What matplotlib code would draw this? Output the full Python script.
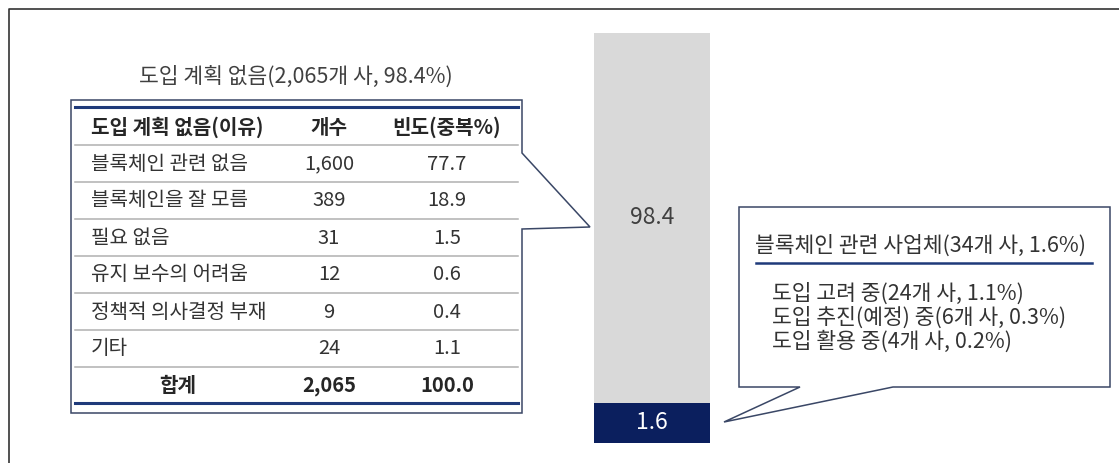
import numpy as np
import matplotlib.pyplot as plt
from matplotlib.patches import Polygon

plt.rcParams['font.family'] = ['Noto Sans CJK KR', 'DejaVu Sans']

# data
bar_labels = ['블록체인 관련 사업체', '도입 계획 없음']
bar_values = [1.6, 98.4]
bar_colors = ['#0B1F5E', '#D9D9D9']

table_title = '도입 계획 없음(2,065개 사, 98.4%)'
table_header = ['도입 계획 없음(이유)', '개수', '빈도(중복%)']
reasons = ['블록체인 관련 없음', '블록체인을 잘 모름', '필요 없음',
           '유지 보수의 어려움', '정책적 의사결정 부재', '기타']
counts = [1600, 389, 31, 12, 9, 24]
freqs = [77.7, 18.9, 1.5, 0.6, 0.4, 1.1]
total_label = '합계'
total_count = 2065
total_freq = 100.0

biz_title = '블록체인 관련 사업체(34개 사, 1.6%)'
biz_items = ['도입 고려 중(24개 사, 1.1%)',
             '도입 추진(예정) 중(6개 사, 0.3%)',
             '도입 활용 중(4개 사, 0.2%)']

W, H = 1119, 463
fs = 14.5
fig = plt.figure(figsize=(W / 100, H / 100), dpi=100)

# stacked bar (small segment exaggerated so it stays readable)
axb = fig.add_axes([594 / W, (H - 443) / H, 116 / W, 410 / H])
f_in = [0, bar_values[0], 100]
f_out = [0, 9.76, 100]
axb.set_yscale('function', functions=(lambda v: np.interp(v, f_in, f_out),
                                      lambda v: np.interp(v, f_out, f_in)))
bottom = 0
for val, col in zip(bar_values, bar_colors):
    axb.bar(0, val, bottom=bottom, width=1, color=col)
    mid = bottom + val / 2
    tc = 'white' if col == bar_colors[0] else '#404040'
    axb.text(0, mid, f'{val:.1f}', ha='center', va='center', color=tc, fontsize=16.5)
    bottom += val
axb.set_xlim(-0.5, 0.5)
axb.set_ylim(0, 100)
axb.axis('off')

# overlay in pixel coords
ax = fig.add_axes([0, 0, 1, 1])
ax.set_xlim(0, W)
ax.set_ylim(H, 0)
ax.axis('off')

# outer frame
ax.plot([9, 9, W], [H, 9, 9], color='#333333', lw=1.2)

edge = '#3A4766'
navy = '#1F3A7A'
txt = '#262626'

# table callout
tbl = Polygon([(71, 100), (522, 100), (522, 153), (590, 227), (522, 229),
               (522, 413), (71, 413)], closed=True, fc='white', ec=edge, lw=1.1)
ax.add_patch(tbl)
ax.text(296, 77, table_title, ha='center', va='center', fontsize=15.5, color='#404040')

col_x = [91, 329, 447]
ax.plot([75, 518], [107, 107], color=navy, lw=2.2)
ax.text(col_x[0], 127, table_header[0], ha='left', va='center', fontsize=fs,
        fontweight='bold', color=txt)
ax.text(col_x[1], 127, table_header[1], ha='center', va='center', fontsize=fs,
        fontweight='bold', color=txt)
ax.text(col_x[2], 127, table_header[2], ha='center', va='center', fontsize=fs,
        fontweight='bold', color=txt)

for i, (r, c, f) in enumerate(zip(reasons, counts, freqs)):
    y = 164 + i * 37
    ax.plot([75, 518], [y - 19, y - 19], color='#B0B0B0', lw=1.1)
    ax.text(col_x[0], y, r, ha='left', va='center', fontsize=fs, color='#333333')
    ax.text(col_x[1], y, f'{c:,}', ha='center', va='center', fontsize=fs, color='#333333')
    ax.text(col_x[2], y, f'{f:.1f}', ha='center', va='center', fontsize=fs, color='#333333')

ty = 164 + len(reasons) * 37
ax.plot([75, 518], [ty - 19, ty - 19], color='#B0B0B0', lw=1.1)
ax.text(178, ty, total_label, ha='center', va='center', fontsize=fs,
        fontweight='bold', color=txt)
ax.text(col_x[1], ty, f'{total_count:,}', ha='center', va='center', fontsize=fs,
        fontweight='bold', color=txt)
ax.text(col_x[2], ty, f'{total_freq:.1f}', ha='center', va='center', fontsize=fs,
        fontweight='bold', color=txt)
ax.plot([75, 518], [403, 403], color=navy, lw=2.2)

# business callout
biz = Polygon([(739, 207), (1110, 207), (1110, 387), (893, 387), (724, 422),
               (800, 387), (739, 387)], closed=True, fc='white', ec=edge, lw=1.1)
ax.add_patch(biz)
ax.text(755, 246, biz_title, ha='left', va='center', fontsize=15.5, color='#333333')
ax.plot([756, 1092], [263, 263], color=navy, lw=1.8)
for i, s in enumerate(biz_items):
    ax.text(772, 294 + i * 24, s, ha='left', va='center', fontsize=15.5, color='#333333')

fig.savefig('out.png', dpi=100, facecolor='white')
